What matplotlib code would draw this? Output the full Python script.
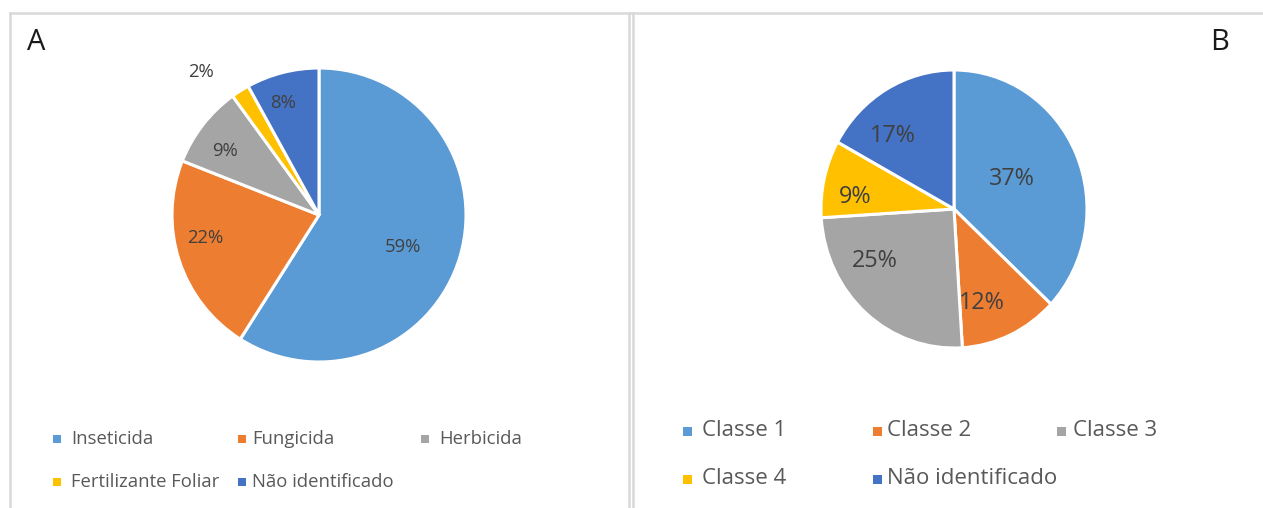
import matplotlib
matplotlib.use("Agg")
import matplotlib.pyplot as plt
from matplotlib.patches import Rectangle
from matplotlib.lines import Line2D
import numpy as np

# ---- data ----
labels_a = ["Inseticida", "Fungicida", "Herbicida", "Fertilizante Foliar", "Não identificado"]
values_a = [59, 22, 9, 2, 8]
labels_b = ["Classe 1", "Classe 2", "Classe 3", "Classe 4", "Não identificado"]
values_b = [37, 12, 25, 9, 17]
colors = ["#5B9BD5", "#ED7D31", "#A5A5A5", "#FFC000", "#4472C4"]

# ---- style / layout ----
W, H = 1263, 508
FONT = ["Open Sans", "DejaVu Sans"]
plt.rcParams["font.family"] = FONT
fig = plt.figure(figsize=(W / 100, H / 100), dpi=100)
fig.patch.set_facecolor("white")

def px_axes(cx, cy, rx, ry):
    return fig.add_axes([(cx - rx) / W, 1 - (cy + ry) / H, 2 * rx / W, 2 * ry / H])

# label placement (distance from centre, angle offset from wedge middle)
place_a = [(0.611, -4.7), (0.791, -6.6), (0.774, 3.6), (1.26, 7.1), (0.80, 3.4)]
place_b = [(0.487, 2.9), (0.708, -7.9), (0.702, -16.4), (0.749, 6.0), (0.697, 10.6)]

def draw_pie(ax, values, place, fs, tcolor):
    wedges, _ = ax.pie(values, colors=colors, startangle=90, counterclock=False,
                       wedgeprops=dict(edgecolor="white", linewidth=2.2))
    ax.set_aspect("auto")
    ax.set_xlim(-1, 1)
    ax.set_ylim(-1, 1)
    total = sum(values)
    for w, v, (d, off) in zip(wedges, values, place):
        ang = np.deg2rad((w.theta1 + w.theta2) / 2 + off)
        ax.text(d * np.cos(ang), d * np.sin(ang), f"{round(100 * v / total)}%",
                ha="center", va="center", fontsize=fs, color=tcolor, clip_on=False)
    return wedges

ax_a = px_axes(319, 215, 147, 147)
wa = draw_pie(ax_a, values_a, place_a, 13.3, "#404040")
ax_b = px_axes(954, 209, 133, 139)
wb = draw_pie(ax_b, values_b, place_b, 16.8, "#404040")

# panel borders
bc = "#d9d9d9"
for seg in [((10, 13), (1263, 13)), ((10, 13), (10, 508)), ((629, 13), (629, 508)), ((633, 13), (633, 508))]:
    (x0, y0), (x1, y1) = seg
    fig.add_artist(Line2D([x0 / W, x1 / W], [1 - y0 / H, 1 - y1 / H], color=bc, lw=1.8,
                          transform=fig.transFigure))

# panel letters
fig.text(27 / W, 1 - 43 / H, "A", fontsize=21, color="#1a1a1a", ha="left", va="center")
fig.text(1210 / W, 1 - 42 / H, "B", fontsize=21, color="#1a1a1a", ha="left", va="center")

# legends (row-major, grid positions)
def legend(wedges, labels, marker_x, text_x, rows_y, fs, msize):
    for i, (w, lab) in enumerate(zip(wedges, labels)):
        r, c = divmod(i, 3)
        mx, tx, y = marker_x[c], text_x[c], rows_y[r]
        fig.add_artist(Rectangle(((mx - msize / 2) / W, 1 - (y + msize / 2) / H), msize / W, msize / H,
                                 transform=fig.transFigure, facecolor=w.get_facecolor(), edgecolor="none"))
        fig.text(tx / W, 1 - y / H, lab, fontsize=fs, color="#595959", ha="left", va="center")

legend(wa, labels_a, [57, 242, 425], [71, 252, 439], [439, 482], 13.3, 8)
legend(wb, labels_b, [688, 877, 1061], [702, 887, 1073], [431, 479], 16, 9)

fig.savefig("out.png", dpi=100, facecolor="white")
